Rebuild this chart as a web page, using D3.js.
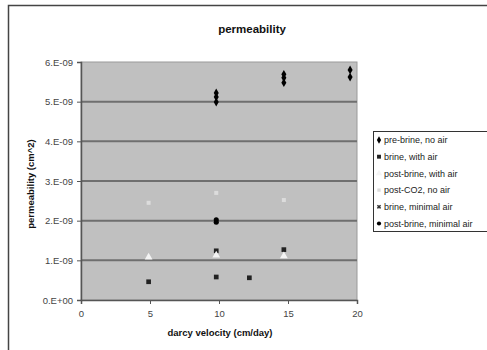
<!DOCTYPE html>
<html><head><meta charset="utf-8">
<script src="https://cdn.jsdelivr.net/npm/d3@7"></script>
<style>html,body{margin:0;padding:0;background:#fff;}svg{display:block;font-family:"Liberation Sans",Arial,sans-serif;}</style>
</head><body>
<script>
const title = "permeability";
const xLabel = "darcy velocity (cm/day)";
const yLabel = "permeability (cm^2)";
const xTicks = [0, 5, 10, 15, 20];
const yTicks = [0, 1e-9, 2e-9, 3e-9, 4e-9, 5e-9, 6e-9];
const yTickLabels = ["0.E+00","1.E-09","2.E-09","3.E-09","4.E-09","5.E-09","6.E-09"];
const seriesNames = ["pre-brine, no air","brine, with air","post-brine, with air","post-CO2, no air","brine, minimal air","post-brine, minimal air"];
const preBrineNoAir = [[9.8,5.22e-9],[9.8,5.12e-9],[9.8,4.99e-9],[14.7,5.69e-9],[14.7,5.6e-9],[14.7,5.48e-9],[19.5,5.8e-9],[19.5,5.62e-9]];
const brineWithAir = [[4.9,0.46e-9],[9.8,1.24e-9],[9.8,0.58e-9],[12.2,0.56e-9],[14.7,1.27e-9]];
const postBrineWithAir = [[4.9,1.08e-9],[9.8,1.13e-9],[14.7,1.11e-9]];
const postCO2NoAir = [[4.9,2.45e-9],[9.8,2.7e-9],[14.7,2.52e-9]];
const brineMinimalAir = [[9.8,1.98e-9]];
const postBrineMinimalAir = [[9.8,2.02e-9],[9.8,1.96e-9]];

const W = 487, H = 350;
const svg = d3.select("body").append("svg").attr("width", W).attr("height", H);
// chart frame
svg.append("rect").attr("x",8.5).attr("y",5.5).attr("width",W+20).attr("height",H+20)
  .attr("fill","#fff").attr("stroke","#444").attr("stroke-width",1.5);

const x = d3.scaleLinear().domain([0,20]).range([81,357]);
const y = d3.scaleLinear().domain([0,6e-9]).range([300,62]);

svg.append("rect").attr("x",x(0)).attr("y",y(6e-9)).attr("width",x(20)-x(0)).attr("height",y(0)-y(6e-9))
  .attr("fill","#c0c0c0").attr("stroke","#9a9a9a").attr("stroke-width",1);

// gridlines
svg.append("g").selectAll("line").data(yTicks.slice(1,6)).join("line")
  .attr("x1",x(0)).attr("x2",x(20)).attr("y1",d=>y(d)).attr("y2",d=>y(d))
  .attr("stroke","#6f6f6f").attr("stroke-width",2);

// axes
const yAxis = d3.axisLeft(y).tickValues(yTicks).tickFormat((d,i)=>yTickLabels[i]).tickSize(4).tickPadding(4);
const gy = svg.append("g").attr("transform",`translate(${x(0)},0)`).call(yAxis);
const xAxis = d3.axisBottom(x).tickValues(xTicks).tickSize(4).tickPadding(6);
const gx = svg.append("g").attr("transform",`translate(0,${y(0)})`).call(xAxis);
[gx,gy].forEach(g=>{
  g.select(".domain").attr("stroke","#555").attr("stroke-width",1.5);
  g.selectAll(".tick line").attr("stroke","#555");
  g.selectAll("text").attr("font-size",9.5).attr("fill","#444").attr("font-family","'Liberation Sans',Arial,sans-serif");
});

// labels
svg.append("text").attr("x",252).attr("y",33).attr("text-anchor","middle")
  .attr("font-weight","bold").attr("font-size",11.5).attr("fill","#111").text(title);
svg.append("text").attr("x",220).attr("y",336).attr("text-anchor","middle")
  .attr("font-weight","bold").attr("font-size",9.5).attr("fill","#111").text(xLabel);
svg.append("text").attr("transform","translate(34,184) rotate(-90)").attr("text-anchor","middle")
  .attr("font-weight","bold").attr("font-size",9.5).attr("fill","#111").text(yLabel);

// markers
const styles = [
  {sym:d3.symbolDiamond, size:22, fill:"#000", stroke:"none"},
  {sym:d3.symbolSquare, size:22, fill:"#222", stroke:"none"},
  {sym:d3.symbolTriangle, size:26, fill:"#f4f4f4", stroke:"none"},
  {sym:d3.symbolSquare, size:16, fill:"#dcdcdc", stroke:"none"},
  {sym:d3.symbolCross, size:16, fill:"#333", stroke:"none", rot:45},
  {sym:d3.symbolCircle, size:20, fill:"#000", stroke:"none"}
];
const allSeries = [preBrineNoAir, brineWithAir, postBrineWithAir, postCO2NoAir, brineMinimalAir, postBrineMinimalAir];
allSeries.forEach((data,i)=>{
  const s = styles[i];
  svg.append("g").selectAll("path").data(data).join("path")
    .attr("d", d3.symbol(s.sym, s.size))
    .attr("transform", d=>`translate(${x(d[0])},${y(d[1])})${s.rot?` rotate(${s.rot})`:""}`)
    .attr("fill", s.fill).attr("stroke", s.stroke);
});

// legend
const lg = svg.append("g");
lg.append("rect").attr("x",373.5).attr("y",131.5).attr("width",130).attr("height",100)
  .attr("fill","#fff").attr("stroke","#333").attr("stroke-width",1);
seriesNames.forEach((n,i)=>{
  const s = styles[i];
  const yy = 140 + i*16.7;
  lg.append("path").attr("d", d3.symbol(s.sym, s.size*0.7))
    .attr("transform",`translate(379,${yy})${s.rot?` rotate(${s.rot})`:""}`).attr("fill", s.fill);
  lg.append("text").attr("x",384).attr("y",yy+3.3).attr("font-size",9).attr("fill","#222").text(n);
});
</script>
</body></html>
